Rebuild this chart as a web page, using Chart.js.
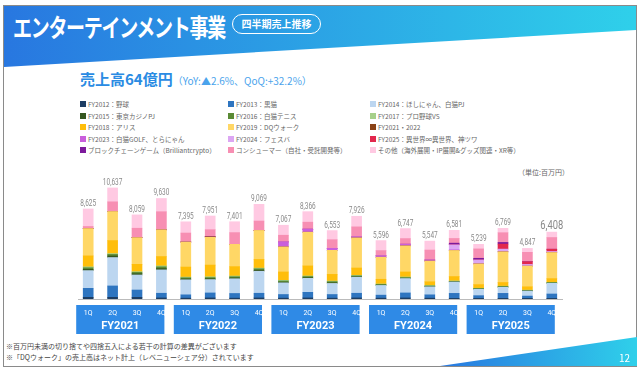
<!DOCTYPE html>
<html lang="ja">
<head>
<meta charset="utf-8">
<script src="https://cdn.jsdelivr.net/npm/chart.js@4.4.1/dist/chart.umd.min.js"></script>
<style>
  body { margin: 0; width: 640px; height: 369px; overflow: hidden; background: #fff; font-family: "Noto Sans CJK JP", sans-serif; }
  #frame { position: absolute; left: 3px; top: 5px; width: 632px; height: 360px; border: 1px solid #8a8a8a; }
  #band { position: absolute; left: 4px; top: 6px; width: 632px; height: 62px; background: linear-gradient(90deg, #2877e0, #2fd0ea); clip-path: polygon(0 0, 100% 0, 100% 24px, 0 61px); }
  #title { position: absolute; left: 13px; top: 8px; color: #fff; font-weight: 700; font-size: 19px; letter-spacing: -1.3px; transform: scaleY(1.3); transform-origin: 0 0; white-space: nowrap; }
  #pill { position: absolute; left: 232px; top: 14px; width: 87px; height: 18px; border: 1.5px solid #fff; border-radius: 11px; color: #fff; font-weight: 700; font-size: 10px; text-align: center; line-height: 18px; }
  #sub { position: absolute; left: 80px; top: 68px; color: #2a8be3; font-weight: 700; font-size: 15px; white-space: nowrap; }
  #sub span { font-size: 10px; font-weight: 400; color: #4aa3ec; }
  #legend { position: absolute; left: 80px; top: 100px; display: grid; grid-template-columns: 148px 142px 200px; row-gap: 3.6px; }
  .li { display: flex; align-items: center; font-size: 6.5px; color: #666; height: 8px; white-space: nowrap; }
  .li i { display: inline-block; width: 6px; height: 6px; margin-right: 2px; }
  #unit { position: absolute; left: 518px; top: 167px; font-size: 7px; color: #666; }
  #wrap { position: absolute; left: 70px; top: 175px; width: 500px; height: 165px; }
  .note { position: absolute; left: 6px; font-size: 7px; color: #444; white-space: nowrap; }
  #wedge { position: absolute; left: 440px; top: 337px; width: 197px; height: 29px; background: linear-gradient(90deg, #2877e0, #2fd0ea); clip-path: polygon(0 100%, 100% 0, 100% 100%); }
  #page { position: absolute; left: 619px; top: 350px; color: #fff; font-size: 10px; }
</style>
</head>
<body>
<div id="frame"></div>
<div id="band"></div>
<div id="title">エンターテインメント事業</div>
<div id="pill">四半期売上推移</div>
<div id="sub">売上高64億円<span>（YoY:▲2.6%、QoQ:+32.2%）</span></div>
<div id="legend"></div>
<div id="unit">（単位:百万円）</div>
<div id="wrap"><canvas id="chart" width="500" height="165"></canvas></div>
<div class="note" style="top:341px">※百万円未満の切り捨てや四捨五入による若干の計算の差異がございます</div>
<div class="note" style="top:352px">※「DQウォーク」の売上高はネット計上（レベニューシェア分）されています</div>
<div id="wedge"></div>
<div id="page">12</div>

<script>
const fiscalYears = ["FY2021", "FY2022", "FY2023", "FY2024", "FY2025"];
const quarters = ["1Q", "2Q", "3Q", "4Q"];
const totals = [8625, 10637, 8059, 9630, 7395, 7951, 7401, 9069, 7067, 8366, 6553, 7926, 5596, 6747, 5547, 6581, 5239, 6769, 4847, 6408];

const seriesNames = [
  "FY2012：野球", "FY2013：黒猫", "FY2014：ほしにゃん、白猫PJ",
  "FY2015：東京カジノPJ", "FY2016：白猫テニス", "FY2017：プロ野球VS",
  "FY2018：アリス", "FY2019：DQウォーク", "FY2021・2022",
  "FY2023：白猫GOLF、とらにゃん", "FY2024：フェスバ", "FY2025：異世界∞異世界、神ツワ",
  "ブロックチェーンゲーム（Brilliantcrypto）", "コンシューマー（自社・受託開発等）", "その他（海外展開・IP展開&グッズ関連・XR等）"
];
const seriesColors = [
  "#1c3d63", "#2e75c0", "#bcd6f0",
  "#34561f", "#5a8a35", "#a6d08a",
  "#ffbe0a", "#ffd766", "#8a4216",
  "#c95fdc", "#dca6f3", "#e2284d",
  "#7d1a9c", "#f78fb3", "#ffc9e2"
];

const fy2012 = [160, 160, 160, 100, 80, 100, 80, 100, 80, 100, 80, 100, 80, 100, 80, 60, 60, 60, 60, 60];
const fy2013 = [860, 1090, 700, 450, 320, 480, 450, 450, 350, 540, 350, 450, 290, 480, 320, 480, 260, 480, 220, 420];
const fy2014 = [1700, 2720, 1440, 2240, 1440, 1280, 1410, 2110, 1120, 1340, 1060, 1540, 930, 1380, 770, 1090, 610, 580, 480, 1020];
const fy2015 = [120, 150, 120, 130, 80, 80, 80, 100, 60, 60, 60, 40, 30, 30, 30, 20, 20, 20, 20, 20];
const fy2016 = [150, 150, 130, 160, 110, 110, 110, 130, 110, 110, 110, 80, 60, 60, 50, 40, 40, 40, 30, 40];
const fy2017 = [90, 80, 70, 90, 70, 80, 70, 70, 70, 60, 60, 60, 50, 60, 50, 40, 40, 50, 40, 40];
const fy2018 = [1050, 1250, 700, 900, 960, 1120, 900, 830, 800, 960, 640, 700, 450, 480, 350, 420, 350, 350, 320, 350];
const fy2019 = [2620, 2780, 2560, 2560, 2400, 2660, 2140, 2780, 2400, 3230, 2300, 2880, 2110, 2500, 1980, 2500, 1980, 2940, 1980, 2500];
const fy2021 = [0, 0, 0, 0, 0, 60, 0, 0, 0, 0, 0, 0, 0, 0, 0, 0, 0, 0, 0, 0];
const fy2023 = [0, 0, 0, 0, 0, 0, 0, 0, 480, 290, 190, 100, 130, 160, 100, 60, 0, 0, 0, 0];
const fy2024 = [0, 0, 0, 0, 0, 0, 0, 0, 0, 0, 0, 0, 0, 0, 0, 480, 380, 260, 160, 100];
const fy2025 = [0, 0, 0, 0, 0, 0, 0, 0, 0, 0, 0, 0, 0, 0, 0, 0, 0, 480, 260, 220];
const blockchain = [0, 0, 0, 0, 0, 0, 0, 0, 0, 0, 0, 0, 0, 0, 0, 160, 160, 160, 0, 0];
const consumer = [200, 930, 900, 1730, 860, 670, 1120, 900, 640, 670, 830, 960, 510, 540, 960, 450, 900, 930, 900, 1120];
const others = [1675, 1327, 1279, 1270, 1075, 1311, 1041, 1599, 957, 1006, 873, 1016, 956, 957, 857, 781, 439, 419, 377, 518];

const seriesData = [fy2012, fy2013, fy2014, fy2015, fy2016, fy2017, fy2018, fy2019, fy2021, fy2023, fy2024, fy2025, blockchain, consumer, others];

// legend in html, 3 columns like the slide
const legend = document.getElementById("legend");
seriesNames.forEach((name, i) => {
  const el = document.createElement("div");
  el.className = "li";
  el.innerHTML = `<i style="background:${seriesColors[i]}"></i>${name}`;
  legend.appendChild(el);
});

const labels = [];
fiscalYears.forEach(fy => quarters.forEach(q => labels.push(fy + " " + q)));

const decor = {
  id: "decor",
  afterDatasetsDraw(chart) {
    const { ctx, chartArea, scales: { x, y } } = chart;
    const base = y.getPixelForValue(0);
    ctx.save();
    ctx.strokeStyle = "#bbbbbb";
    ctx.lineWidth = 1;
    ctx.beginPath();
    ctx.moveTo(chartArea.left + 2, base + 0.5);
    ctx.lineTo(chartArea.right - 1, base + 0.5);
    ctx.stroke();

    // totals on top of bars
    ctx.fillStyle = "#8a8a8a";
    ctx.textAlign = "center";
    ctx.textBaseline = "alphabetic";
    totals.forEach((t, i) => {
      const px = x.getPixelForValue(i);
      const py = y.getPixelForValue(t) - 3;
      const last = i === totals.length - 1;
      ctx.save();
      ctx.translate(px, py);
      ctx.scale(0.72, 1);
      ctx.font = (last ? "13px" : "9px") + " Roboto";
      ctx.fillText(t.toLocaleString("en-US"), 0, 0);
      ctx.restore();
    });

    // fiscal year boxes under the axis
    fiscalYears.forEach((fy, g) => {
      const left = x.getPixelForValue(g * 4) - 12;
      const right = x.getPixelForValue(g * 4 + 3) + 3;
      ctx.fillStyle = "#2f8ae6";
      ctx.fillRect(left, base + 6, right - left, 29);
      ctx.fillStyle = "#ffffff";
      ctx.font = "7px Roboto";
      ctx.textBaseline = "middle";
      quarters.forEach((q, k) => {
        ctx.fillText(q, x.getPixelForValue(g * 4 + k), base + 14);
      });
      ctx.font = "bold 11px Roboto";
      ctx.fillText(fy, (left + right) / 2, base + 27);
    });
    ctx.restore();
  }
};

new Chart(document.getElementById("chart"), {
  type: "bar",
  data: {
    labels: labels,
    datasets: seriesData.map((d, i) => ({
      label: seriesNames[i],
      data: d,
      backgroundColor: seriesColors[i],
      borderWidth: 0,
      barThickness: 10
    }))
  },
  options: {
    responsive: false,
    animation: false,
    layout: { padding: { left: 6, right: 6, top: 5, bottom: 41 } },
    scales: {
      x: { stacked: true, display: false },
      y: { stacked: true, display: false, min: 0, max: 11400 }
    },
    plugins: {
      legend: { display: false },
      tooltip: { enabled: false }
    }
  },
  plugins: [decor]
});
</script>
</body>
</html>
